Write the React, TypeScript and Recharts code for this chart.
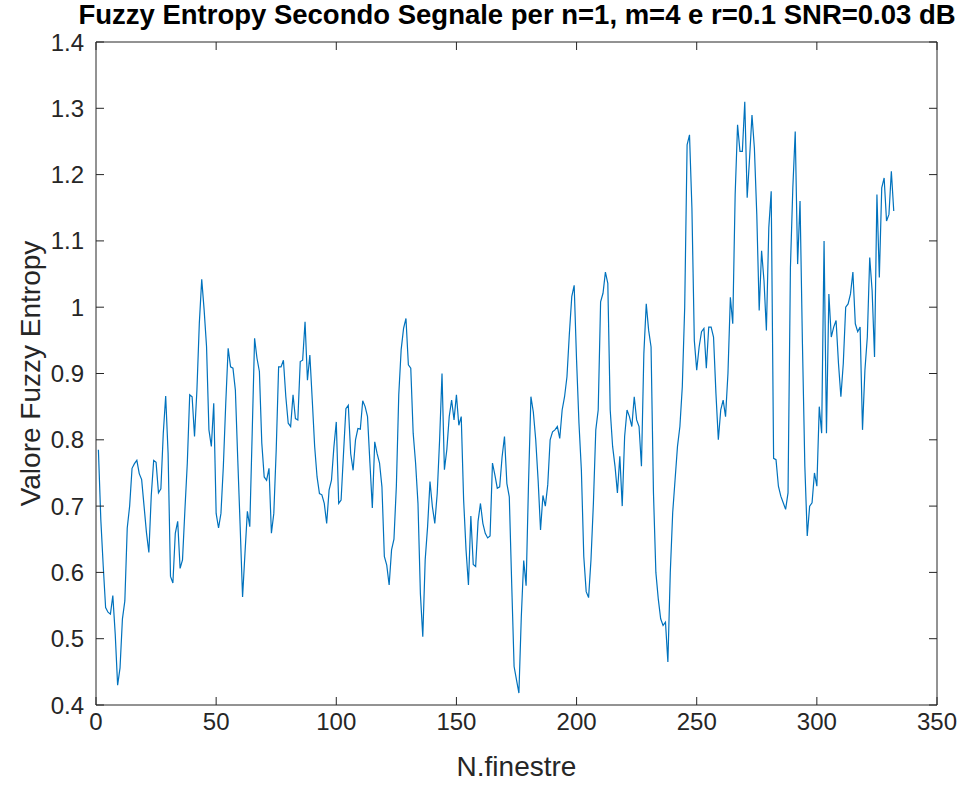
import React from "react";
import { LineChart, Line, XAxis, YAxis } from "recharts";

// Fuzzy entropy value for each window (N.finestre = 1..332)
const fuzzyEntropy = [
  0.785, 0.68, 0.61, 0.547, 0.54, 0.537, 0.565, 0.507, 0.43, 0.456,
  0.53, 0.557, 0.667, 0.7, 0.757, 0.764, 0.769, 0.749, 0.74, 0.7,
  0.66, 0.63, 0.716, 0.769, 0.766, 0.72, 0.726, 0.81, 0.866, 0.78,
  0.594, 0.584, 0.659, 0.677, 0.606, 0.619, 0.694, 0.765, 0.868, 0.865,
  0.805, 0.875, 0.976, 1.042, 0.996, 0.941, 0.815, 0.79, 0.855, 0.689,
  0.667, 0.689, 0.76, 0.855, 0.938, 0.91, 0.908, 0.875, 0.77, 0.669,
  0.563, 0.629, 0.692, 0.669, 0.81, 0.953, 0.923, 0.903, 0.795, 0.744,
  0.739, 0.757, 0.659, 0.689, 0.785, 0.91, 0.91, 0.92, 0.865, 0.825,
  0.82, 0.868, 0.832, 0.83, 0.918, 0.92, 0.978, 0.89, 0.928, 0.86,
  0.79, 0.744, 0.719, 0.717, 0.704, 0.674, 0.724, 0.739, 0.789, 0.827,
  0.704, 0.709, 0.779, 0.847, 0.852, 0.779, 0.754, 0.8, 0.817, 0.816,
  0.859, 0.85, 0.835, 0.765, 0.697, 0.797, 0.779, 0.765, 0.729, 0.624,
  0.611, 0.581, 0.634, 0.65, 0.73, 0.868, 0.936, 0.968, 0.983, 0.913,
  0.908, 0.81, 0.765, 0.704, 0.568, 0.503, 0.619, 0.669, 0.737, 0.699,
  0.674, 0.719, 0.8, 0.9, 0.755, 0.785, 0.835, 0.86, 0.83, 0.868,
  0.822, 0.835, 0.709, 0.634, 0.581, 0.685, 0.612, 0.609, 0.677, 0.704,
  0.674, 0.659, 0.652, 0.655, 0.765, 0.747, 0.727, 0.729, 0.774, 0.805,
  0.734, 0.714, 0.583, 0.458, 0.438, 0.418, 0.533, 0.618, 0.58, 0.734,
  0.865, 0.842, 0.8, 0.739, 0.664, 0.716, 0.7, 0.732, 0.8, 0.812,
  0.815, 0.82, 0.802, 0.845, 0.865, 0.895, 0.96, 1.016, 1.033, 0.92,
  0.825, 0.754, 0.624, 0.571, 0.562, 0.619, 0.704, 0.815, 0.845, 1.008,
  1.021, 1.053, 1.036, 0.845, 0.79, 0.76, 0.72, 0.775, 0.7, 0.805,
  0.845, 0.835, 0.82, 0.865, 0.83, 0.82, 0.76, 0.93, 1.005, 0.965,
  0.94, 0.72, 0.6, 0.56, 0.53, 0.52, 0.525, 0.465, 0.6, 0.69,
  0.74, 0.79, 0.82, 0.88, 1.0, 1.245, 1.26, 1.15, 0.95, 0.905,
  0.94, 0.963, 0.968, 0.908, 0.97, 0.97, 0.955, 0.87, 0.8, 0.845,
  0.86, 0.835, 0.9, 1.015, 0.975, 1.17, 1.275, 1.235, 1.235, 1.31,
  1.165, 1.225, 1.29, 1.24, 1.14, 0.995, 1.085, 1.04, 0.965, 1.12,
  1.175, 0.772, 0.77, 0.73, 0.715, 0.705, 0.695, 0.72, 1.06, 1.18,
  1.265, 1.065, 1.16, 0.945, 0.76, 0.655, 0.7, 0.705, 0.75, 0.73,
  0.85, 0.81, 1.1, 0.81, 1.02, 0.955, 0.97, 0.98, 0.915, 0.865,
  0.915, 1.0, 1.005, 1.02, 1.053, 0.975, 0.963, 0.97, 0.815, 0.905,
  0.955, 1.075, 1.025, 0.925, 1.17, 1.045, 1.18, 1.195, 1.13, 1.14,
  1.205, 1.145,
];

const xTicks = [0, 50, 100, 150, 200, 250, 300, 350];
const yTicks = [0.4, 0.5, 0.6, 0.7, 0.8, 0.9, 1.0, 1.1, 1.2, 1.3, 1.4];

const data = fuzzyEntropy.map((v, i) => ({ n: i + 1, value: v }));

const FONT = "'Liberation Sans', Arial, Helvetica, sans-serif";
const INK = "#262626";

const fmtY = (v: number) => String(Number(v.toFixed(1)));

export default function App() {
  return (
    <div style={{ position: "absolute", left: 0, top: 0, width: 975, height: 785, background: "#fff" }}>
      <div
        style={{
          position: "absolute",
          left: 0,
          width: 1034,
          top: -1,
          textAlign: "center",
          fontFamily: FONT,
          fontWeight: "bold",
          fontSize: 27.5,
          lineHeight: "32px",
          color: "#000",
          whiteSpace: "nowrap",
        }}
      >
        Fuzzy Entropy Secondo Segnale per n=1, m=4 e r=0.1 SNR=0.03 dB
      </div>
      <LineChart
        width={975}
        height={785}
        data={data}
        margin={{ top: 41, right: 37, bottom: 0, left: 0 }}
        style={{ position: "absolute", left: 0, top: 0 }}
      >
        <XAxis
          xAxisId="bottom"
          dataKey="n"
          type="number"
          domain={[0, 350]}
          ticks={xTicks}
          height={80}
          tickSize={-8}
          tickMargin={16}
          axisLine={{ stroke: INK }}
          tickLine={{ stroke: INK }}
          tick={{ fill: INK, fontSize: 24, fontFamily: FONT }}
          label={{ value: "N.finestre", position: "insideBottom", offset: 9, fill: INK, fontSize: 28, fontFamily: FONT }}
        />
        <XAxis
          xAxisId="top"
          dataKey="n"
          orientation="top"
          type="number"
          domain={[0, 350]}
          ticks={xTicks}
          height={1}
          tickSize={-8}
          tickMargin={0}
          axisLine={{ stroke: INK }}
          tickLine={{ stroke: INK }}
          tick={{ fontSize: 0 }}
          tickFormatter={() => ""}
        />
        <YAxis
          yAxisId="left"
          type="number"
          domain={[0.4, 1.4]}
          ticks={yTicks}
          width={96}
          tickSize={-8}
          tickMargin={20}
          tickFormatter={fmtY}
          axisLine={{ stroke: INK }}
          tickLine={{ stroke: INK }}
          tick={{ fill: INK, fontSize: 24, fontFamily: FONT }}
          label={{
            value: "Valore Fuzzy Entropy",
            angle: -90,
            position: "insideLeft",
            offset: 30,
            fill: INK,
            fontSize: 28,
            fontFamily: FONT,
            style: { textAnchor: "middle" },
          }}
        />
        <YAxis
          yAxisId="right"
          orientation="right"
          type="number"
          domain={[0.4, 1.4]}
          ticks={yTicks}
          width={1}
          tickSize={-8}
          tickMargin={0}
          axisLine={{ stroke: INK }}
          tickLine={{ stroke: INK }}
          tick={{ fontSize: 0 }}
          tickFormatter={() => ""}
        />
        {/* invisible copy so the top/right box axes get drawn */}
        <Line
          xAxisId="top"
          yAxisId="right"
          type="linear"
          dataKey="value"
          stroke="none"
          strokeOpacity={0}
          dot={false}
          activeDot={false}
          legendType="none"
          isAnimationActive={false}
        />
        <Line
          xAxisId="bottom"
          yAxisId="left"
          type="linear"
          dataKey="value"
          stroke="#0072BD"
          strokeWidth={1.2}
          dot={false}
          isAnimationActive={false}
        />
      </LineChart>
    </div>
  );
}
